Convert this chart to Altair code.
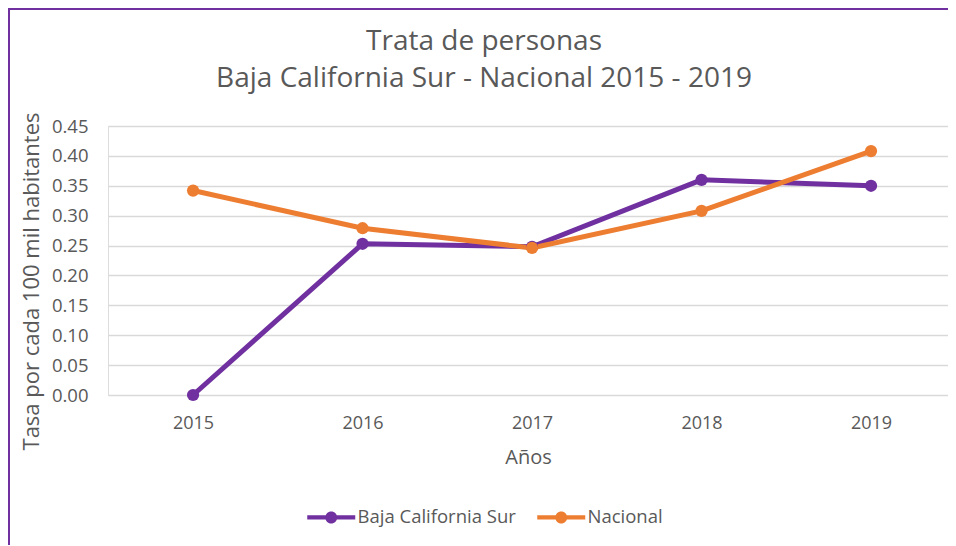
import altair as alt
import pandas as pd

years = ["2015", "2016", "2017", "2018", "2019"]
bcs = [0.000, 0.253, 0.248, 0.360, 0.350]
nacional = [0.342, 0.279, 0.246, 0.308, 0.408]
series_names = ["Baja California Sur", "Nacional"]
series_colors = ["#7030A0", "#ED7D31"]
y_ticks = [0.00, 0.05, 0.10, 0.15, 0.20, 0.25, 0.30, 0.35, 0.40, 0.45]

rows = []
for name, vals in zip(series_names, [bcs, nacional]):
    for yr, v in zip(years, vals):
        rows.append({"Año": yr, "Serie": name, "Tasa": v})
df = pd.DataFrame(rows)

FONT = "Open Sans"
TXT = "#595959"

legend_path = ("M-4,-0.36 L4,-0.36 L4,0.36 L-4,0.36 Z "
               "M1,0 A1,1 0 1,1 -1,0 A1,1 0 1,1 1,0 Z")

x_enc = alt.X("Año:O", sort=years,
              scale=alt.Scale(type="point", padding=0.478, align=0.525),
              axis=alt.Axis(title="Años", labelAngle=0, ticks=False, tickSize=0,
                            domain=False, grid=False, labelPadding=19,
                            labelFontSize=18, labelColor=TXT, labelFont=FONT,
                            titleFontSize=20, titleColor=TXT, titleFont=FONT,
                            titleFontWeight="normal", titleY=62, titleBaseline="middle"))
y_enc = alt.Y("Tasa:Q",
              scale=alt.Scale(domain=[0, 0.45], nice=False),
              axis=alt.Axis(title="Tasa por cada 100 mil habitantes", values=y_ticks,
                            format=".2f", ticks=False, tickSize=0, domain=False,
                            labelPadding=20, labelFontSize=18.5, labelColor=TXT,
                            labelFont=FONT, gridColor="#D9D9D9", gridWidth=1.5,
                            titleFontSize=22, titleColor=TXT, titleFont=FONT,
                            titleFontWeight="normal", titleAngle=270,
                            titleX=-77, titleY=155, titleAlign="center",
                            titleBaseline="middle"))
color_scale = alt.Scale(domain=series_names, range=series_colors)

line_layers = [
    alt.Chart(df).transform_filter(alt.datum.Serie == name)
    .mark_line(strokeWidth=5, color=col).encode(x=x_enc, y=y_enc)
    for name, col in zip(series_names, series_colors)
]
points = alt.Chart(df).mark_point(filled=True, size=150, opacity=1).encode(
    x=x_enc, y=y_enc,
    color=alt.Color("Serie:N", scale=color_scale,
                    legend=alt.Legend(title=None, orient="none", direction="horizontal",
                                      legendX=214, legendY=382,
                                      symbolType=legend_path, symbolSize=144,
                                      symbolStrokeWidth=0, labelOffset=17,
                                      columnPadding=21, labelFontSize=18.5,
                                      labelColor=TXT, labelFont=FONT)),
)

one = alt.Data(values=[{"k": 1}])
border_left = alt.Chart(one).mark_rule(color="#7030A0", strokeWidth=2).encode(
    x=alt.value(-99), y=alt.value(-117), y2=alt.value(430))
border_top = alt.Chart(one).mark_rule(color="#7030A0", strokeWidth=2).encode(
    y=alt.value(-117), x=alt.value(-100), x2=alt.value(860))

chart = alt.layer(*line_layers, points, border_left, border_top).properties(
    width=840, height=269,
    padding={"left": 100, "top": 118, "right": 0, "bottom": 150},
    autosize=alt.AutoSizeParams(type="none"),
    title=alt.TitleParams(
        ["Trata de personas", "Baja California Sur - Nacional 2015 - 2019"],
        anchor="middle", frame="group", fontSize=28, font=FONT, fontWeight="normal",
        color=TXT, lineHeight=37, offset=36, dx=-44, dy=121),
).configure_view(stroke=None).configure(background="white")

chart.save("out.html", embed_options={"renderer": "svg", "actions": False})
